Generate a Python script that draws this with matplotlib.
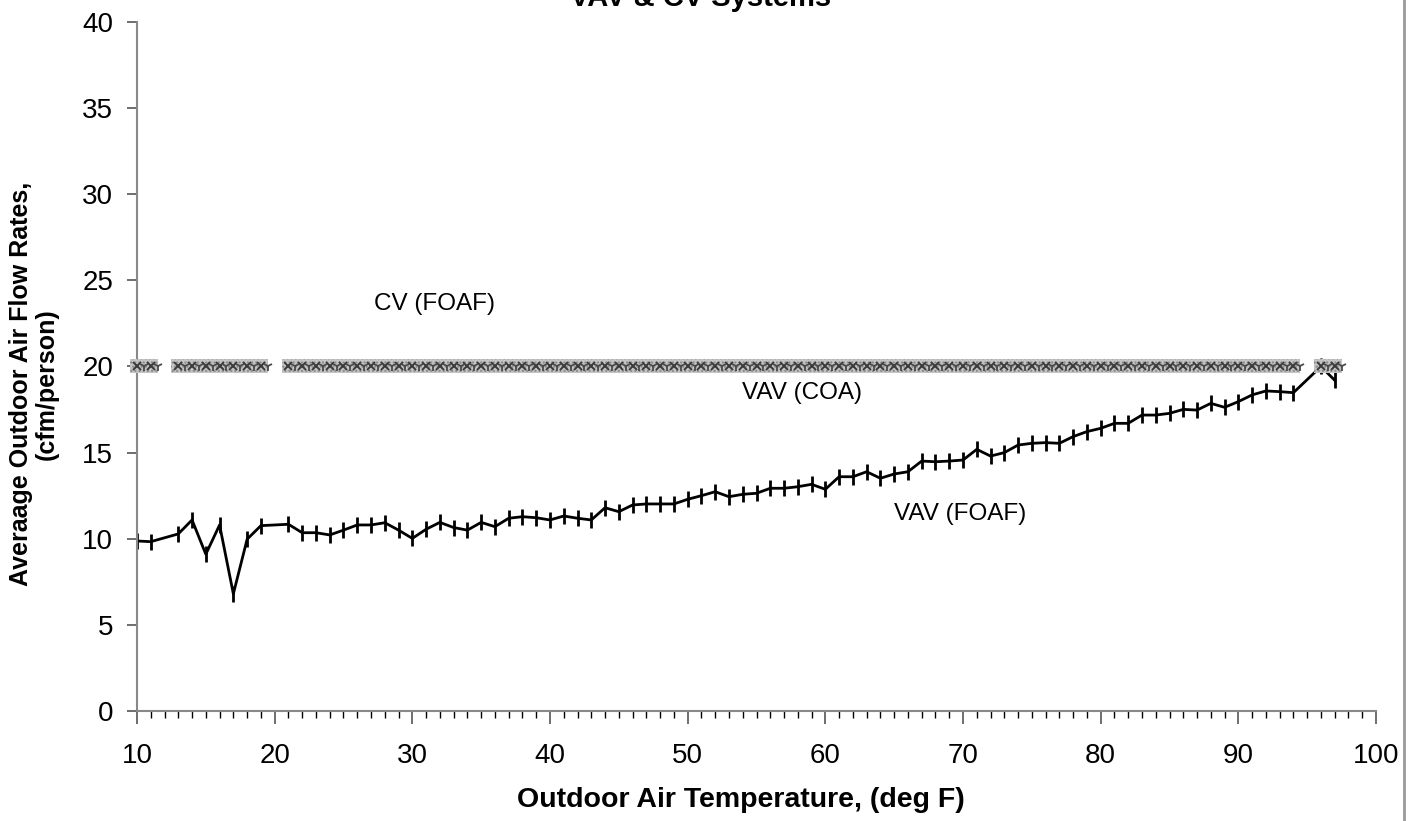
import numpy as np
import matplotlib.pyplot as plt
from matplotlib.ticker import MultipleLocator

plt.rcParams['font.family'] = ['Liberation Sans', 'DejaVu Sans']

# outdoor air temperature (deg F)
temps = list(range(10, 98))

# VAV (FOAF) average outdoor air flow (cfm/person); missing temps have no data
vav_foaf = {
    10: 9.87, 11: 9.83, 13: 10.28, 14: 11.09, 15: 9.1, 16: 10.8, 17: 6.8,
    18: 9.97, 19: 10.76, 21: 10.84, 22: 10.35, 23: 10.35, 24: 10.22,
    25: 10.5, 26: 10.8, 27: 10.8, 28: 10.93, 29: 10.5, 30: 10.02,
    31: 10.55, 32: 10.95, 33: 10.65, 34: 10.5, 35: 10.95, 36: 10.7,
    37: 11.19, 38: 11.28, 39: 11.22, 40: 11.09, 41: 11.32, 42: 11.19,
    43: 11.09, 44: 11.8, 45: 11.57, 46: 11.96, 47: 12.02, 48: 12.02,
    49: 12.02, 50: 12.29, 51: 12.5, 52: 12.73, 53: 12.44, 54: 12.58,
    55: 12.64, 56: 12.93, 57: 12.93, 58: 13.02, 59: 13.16, 60: 12.87,
    61: 13.6, 62: 13.6, 63: 13.89, 64: 13.51, 65: 13.76, 66: 13.89,
    67: 14.51, 68: 14.47, 69: 14.51, 70: 14.57, 71: 15.19, 72: 14.8,
    73: 15.0, 74: 15.44, 75: 15.54, 76: 15.58, 77: 15.54, 78: 15.93,
    79: 16.22, 80: 16.41, 81: 16.7, 82: 16.7, 83: 17.18, 84: 17.18,
    85: 17.28, 86: 17.51, 87: 17.47, 88: 17.86, 89: 17.63, 90: 17.96,
    91: 18.35, 92: 18.58, 93: 18.54, 94: 18.48, 96: 20.0, 97: 19.2,
}
# CV (FOAF) and VAV (COA) sit at a constant 20 cfm/person
cv_foaf = {t: 20.0 for t in temps if t not in (12, 20, 95)}
vav_coa = {t: 20.0 for t in temps if t not in (12, 20, 95)}

labels = ['CV (FOAF)', 'VAV (COA)', 'VAV (FOAF)']
label_pos = [(31.6, 23.6), (58.3, 18.45), (69.8, 11.45)]

x = np.array(temps, dtype=float)
y_vav = np.array([vav_foaf.get(t, np.nan) for t in temps])
y_cv = np.array([cv_foaf.get(t, np.nan) for t in temps])
y_coa = np.array([vav_coa.get(t, np.nan) for t in temps])

fig = plt.figure(figsize=(14.18, 8.21), dpi=100)
ax = fig.add_axes([0.0966, 0.134, 0.8738, 0.8392])

# VAV (FOAF) line with vertical tick markers (line runs across missing temps)
ok_v = ~np.isnan(y_vav)
ax.plot(x[ok_v], y_vav[ok_v], color='black', lw=2.0, marker='|', ms=11,
        mew=2.0, zorder=2)

# CV / VAV (COA) drawn as a band of wide textured markers at 20
ok = ~np.isnan(y_cv)
ax.bar(x[ok], 0.85, bottom=y_cv[ok] - 0.4, width=1.0, color='#c4c4c4',
       edgecolor='#8a8a8a', hatch='....', linewidth=0, zorder=3, clip_on=False)
ax.plot(x[ok], y_cv[ok], ls='none', marker='x', ms=6, mew=1.4,
        color='#3a3a3a', zorder=4, clip_on=False)
ok2 = ~np.isnan(y_coa)
ax.plot(x[ok2] + 0.5, y_coa[ok2], ls='none', marker='1', ms=7, mew=1.3,
        color='#4a4a4a', zorder=4)

for txt, (tx, ty) in zip(labels, label_pos):
    ax.text(tx, ty, txt, fontsize=17.5, ha='center', va='center')

ax.set_xlim(10, 100)
ax.set_ylim(0, 40)
ax.xaxis.set_major_locator(MultipleLocator(10))
ax.xaxis.set_minor_locator(MultipleLocator(1))
ax.yaxis.set_major_locator(MultipleLocator(5))
ax.tick_params(axis='both', labelsize=20, color='#555555', width=1.2)
ax.tick_params(axis='x', which='major', length=9, pad=14)
ax.tick_params(axis='x', which='minor', length=5, width=1.0)
ax.tick_params(axis='y', length=7, pad=10)
for s in ['top', 'right']:
    ax.spines[s].set_visible(False)
for s in ['left', 'bottom']:
    ax.spines[s].set_color('#888888')
    ax.spines[s].set_linewidth(1.5)

ax.set_xlabel('Outdoor Air Temperature, (deg F)', fontsize=20.5, fontweight='bold')
ax.xaxis.set_label_coords(0.487, -0.11)
ax.set_ylabel('Averaage Outdoor Air Flow Rates,\n(cfm/person)', fontsize=18,
              fontweight='bold', linespacing=1.1)
ax.yaxis.set_label_coords(-0.063, 0.475)

# title cut off at the top edge of the image
fig.text(0.494, 0.993, 'VAV & CV Systems', fontsize=21, fontweight='bold',
         ha='center', va='baseline')

# outer frame line on the right
fig.add_artist(plt.Line2D([0.990, 0.990], [0, 1], color='#999999', lw=2))

fig.savefig('out.png', dpi=100)
